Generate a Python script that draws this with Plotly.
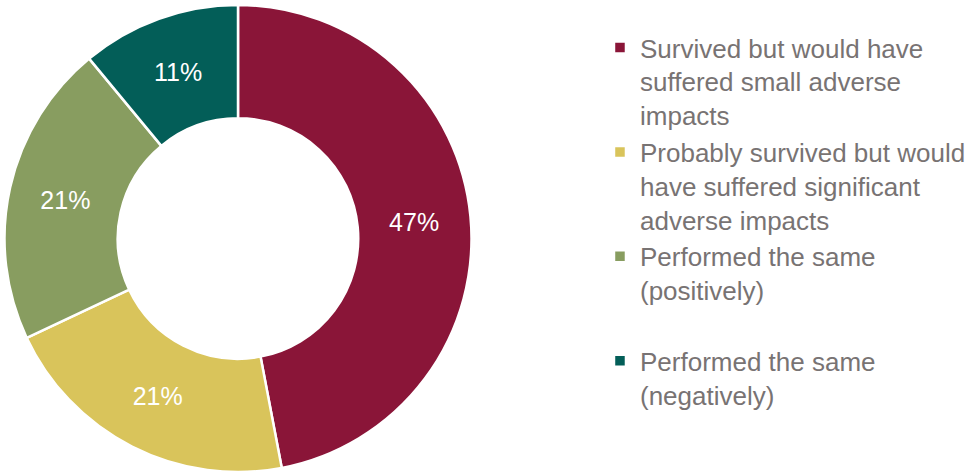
import plotly.graph_objects as go

# Survey outcome shares (percent)
categories = [
    "Survived but would have<br>suffered small adverse<br>impacts",
    "Probably survived but would<br>have suffered significant<br>adverse impacts",
    "Performed the same<br>(positively)<br> ",
    "Performed the same<br>(negatively)",
]
values = [47, 21, 21, 11]
colors = ["#8A1538", "#D9C45B", "#889D60", "#035E58"]

fig = go.Figure(
    go.Pie(
        labels=categories,
        values=values,
        hole=0.515,
        sort=False,
        direction="clockwise",
        rotation=0,
        marker=dict(colors=colors, line=dict(color="white", width=2.5)),
        texttemplate="%{value}%",
        textposition="inside",
        insidetextorientation="horizontal",
        textfont=dict(color="white", size=25, family="Liberation Sans, Arial, sans-serif"),
        domain=dict(x=[0, 476 / 974], y=[0, 1]),
        hoverinfo="label+percent",
    )
)

fig.update_layout(
    width=974,
    height=472,
    margin=dict(l=0, r=0, t=5, b=0),
    paper_bgcolor="white",
    plot_bgcolor="white",
    showlegend=True,
    legend=dict(
        x=0.616,
        y=0.959,
        xanchor="left",
        yanchor="top",
        valign="top",
        font=dict(size=26, color="#787373", family="Liberation Sans, Arial, sans-serif"),
        tracegroupgap=0,
        itemclick=False,
    ),
)

fig.write_html("out.html")
